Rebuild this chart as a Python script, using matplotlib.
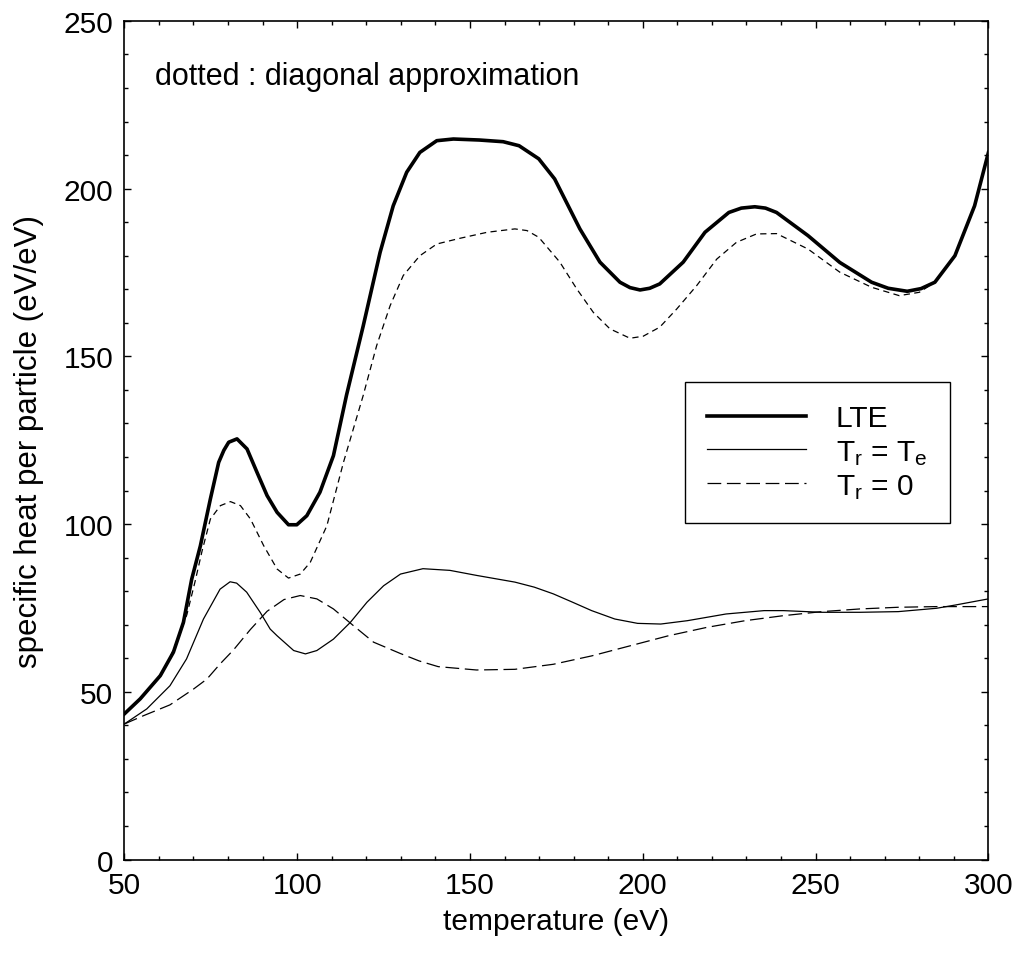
import matplotlib
matplotlib.use("Agg")
import matplotlib.pyplot as plt
from matplotlib.ticker import MultipleLocator

plt.rcParams['font.family'] = ['Liberation Sans', 'DejaVu Sans']
plt.rcParams['mathtext.fontset'] = 'custom'
plt.rcParams['mathtext.rm'] = 'Liberation Sans'
plt.rcParams['mathtext.it'] = 'Liberation Sans'
plt.rcParams['mathtext.default'] = 'regular'

# LTE (thick solid)
lte_t = [50, 54.6, 60.4, 64.2, 67.1, 69.5, 72, 74.9, 77.3, 78.8, 80.2, 82.6, 85.5,
         88.4, 91.3, 94.2, 97.5, 99.9, 102.8, 106.6, 110.5, 114.3, 119.1, 124, 127.8,
         131.7, 135.5, 140.4, 145.2, 152.7, 159.6, 164.2, 169.9, 174.5, 181.8,
         187.6, 193.4, 196.3, 199.2, 202.0, 204.9, 211.7, 218, 224.9, 228.5, 232.4,
         235.5, 238.7, 247.8, 257, 266.2, 271.0, 276.5, 280.5, 284.5, 290.3, 296, 300]
lte_c = [43.4, 47.9, 54.8, 61.8, 70.7, 83.6, 93.5, 107.5, 118.4, 122.0, 124.4, 125.4,
         122.4, 115.4, 108.5, 103.5, 99.8, 99.8, 102.5, 109.5, 120.4, 138.5, 159.0,
         181.0, 194.9, 204.9, 210.8, 214.3, 214.8, 214.5, 214.0, 212.8, 208.9, 202.9,
         188.0, 178.1, 172.1, 170.5, 169.8, 170.3, 171.6, 178.1, 187.0, 192.9, 194.2,
         194.6, 194.2, 192.9, 186.0, 178.0, 172.1, 170.3, 169.4, 170.2, 172.1, 180.0,
         194.9, 210.8]

# diagonal approximation (dotted)
diag_t = [50, 54.6, 60.4, 63.2, 66.0, 68.1, 70.5, 72.5, 74.9, 77.8, 80.7, 83.6, 86.5,
          90.3, 94.2, 97.5, 100.9, 103.8, 108.6, 113.4, 119.1, 123.0, 126.9, 130.7,
          135.5, 140.4, 147.1, 155, 163, 166.5, 169.9, 176.0, 180.9, 185.7, 190.5,
          196.3, 200.1, 204.9, 209.8, 215.6, 221.4, 227.1, 232.9, 238.7, 247.8, 257,
          266.2, 274.2, 280, 284.5, 290.3, 296, 300]
diag_c = [43.4, 47.9, 54.5, 60.2, 67.0, 73.0, 83.0, 92.0, 101.5, 105.5, 106.7, 105.5,
          101.5, 93.6, 86.6, 83.9, 85.1, 88.6, 99.5, 118.4, 138.3, 153.2, 165.1, 174.1,
          180.0, 183.5, 185.2, 187.0, 188.0, 187.5, 185.5, 178.1, 170.1, 163.1, 158.2,
          155.4, 156.0, 158.7, 164.1, 171.1, 179.0, 184.0, 186.5, 186.6, 182.0, 175.1,
          170.6, 168.1, 169.1, 172.1, 180.0, 194.9, 210.8]

# T_r = T_e (thin solid)
tre_t = [50, 56.5, 63.2, 68.0, 72.9, 77.7, 80.6, 82.5, 85.4, 89.3, 92.2, 94.2, 99.0,
         102.4, 105.7, 110.5, 115.4, 120.2, 125.0, 129.9, 136.4, 144.2, 151.9,
         163.0, 168.6, 174.1, 179.7, 185.2, 191.9, 198.5, 205.2, 212.9, 224.1,
         235.1, 240.7, 251.8, 262.8, 273.9, 285.0, 290.6, 300]
tre_c = [40.4, 44.9, 51.8, 59.8, 71.7, 80.6, 82.8, 82.4, 79.7, 73.7, 68.7, 66.7, 62.3,
         61.3, 62.3, 65.7, 70.7, 76.7, 81.6, 85.1, 86.7, 86.2, 84.7, 82.7, 81.2,
         79.2, 76.7, 74.2, 71.7, 70.4, 70.2, 71.2, 73.2, 74.2, 74.2, 73.7, 73.7,
         73.9, 74.9, 75.9, 77.7]

# T_r = 0 (long dashed)
tr0_t = [50, 55.6, 63.2, 70.0, 73.9, 77.7, 81.6, 84.4, 86.5, 91.3, 96.2, 100.9,
         105.7, 110.5, 116.3, 122.1, 129.9, 135.3, 140.8, 151.9, 163.0, 174.1,
         185.2, 196.3, 207.4, 218.5, 229.6, 240.7, 251.8, 262.8, 273.9, 285.0, 300]
tr0_c = [40.4, 42.9, 46.1, 50.8, 53.8, 58.3, 62.5, 66.0, 68.6, 74.0, 77.5, 78.7,
         77.7, 74.7, 69.7, 64.8, 61.4, 59.2, 57.5, 56.5, 56.7, 58.2, 60.7, 63.7,
         66.7, 69.2, 71.2, 72.7, 73.9, 74.7, 75.2, 75.4, 75.4]

fig = plt.figure(figsize=(10.19, 9.54), dpi=100)
ax = fig.add_axes([0.122, 0.098, 0.848, 0.879])

ax.plot(lte_t, lte_c, color='black', lw=2.6, label='LTE')
ax.plot(tre_t, tre_c, color='black', lw=0.9, label='T$_r$ = T$_e$')
ax.plot(tr0_t, tr0_c, color='black', lw=0.9, dashes=(11, 4.5), label='T$_r$ = 0')
ax.plot(diag_t, diag_c, color='black', lw=0.9, dashes=(5, 3.5))

ax.set_xlim(50, 300)
ax.set_ylim(0, 250)
ax.xaxis.set_major_locator(MultipleLocator(50))
ax.xaxis.set_minor_locator(MultipleLocator(10))
ax.yaxis.set_major_locator(MultipleLocator(50))
ax.yaxis.set_minor_locator(MultipleLocator(10))
ax.tick_params(which='both', direction='in', top=True, right=True, labelsize=21.5, width=1)
ax.tick_params(which='major', length=5, pad=8)
ax.tick_params(which='minor', length=3)
for s in ax.spines.values():
    s.set_linewidth(1.2)

ax.set_xlabel('temperature (eV)', fontsize=21.5, labelpad=6)
ax.set_ylabel('specific heat per particle (eV/eV)', fontsize=22.5, labelpad=14)

ax.text(0.0355, 0.925, 'dotted : diagonal approximation', transform=ax.transAxes,
        fontsize=22, va='baseline', ha='left')

leg = ax.legend(loc='upper left', bbox_to_anchor=(0.6488, 0.5695), borderaxespad=0,
                fontsize=21.5, handlelength=3.3, handletextpad=1.0, labelspacing=0.18,
                borderpad=0.75, fancybox=False, framealpha=1, edgecolor='black')
leg.get_frame().set_linewidth(1.0)

fig.savefig('out.png', dpi=100)
